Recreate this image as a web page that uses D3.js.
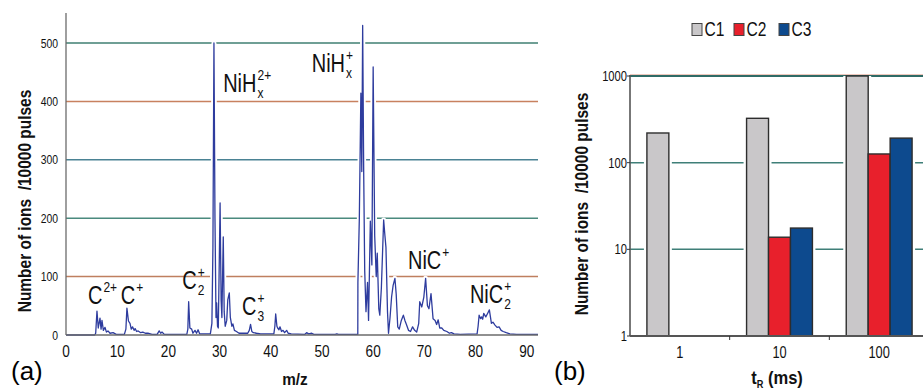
<!DOCTYPE html>
<html>
<head>
<meta charset="utf-8">
<script src="https://cdn.jsdelivr.net/npm/d3@7/dist/d3.min.js"></script>
<style>
  html, body { margin: 0; padding: 0; background: #fff; }
  svg { display: block; }
</style>
</head>
<body>
<svg id="chart" width="923" height="389"></svg>
<script>
// (a) mass spectrum
const spectrumMz = [0, 5.6, 5.8, 6.05, 6.3, 6.64, 6.85, 7.03, 7.3, 7.62, 7.9, 8.2, 8.6, 9.2, 9.8, 11.4, 11.7, 11.9, 12.2, 12.5, 12.75, 13.0, 13.3, 13.5, 13.8, 14.1, 14.6, 15.0, 15.5, 16.0, 16.8, 17.8, 18.2, 18.5, 18.75, 19.2, 22.0, 23.6, 23.8, 23.96, 24.2, 24.55, 24.8, 25.2, 25.5, 25.8, 26.1, 28.2, 28.5, 28.7, 28.9, 29.1, 29.3, 29.43, 29.6, 29.75, 29.9, 30.1, 30.3, 30.45, 30.72, 30.9, 31.1, 31.4, 31.6, 31.9, 32.1, 32.4, 32.6, 32.9, 33.3, 33.8, 35.5, 35.8, 36.05, 36.3, 36.6, 37.2, 38, 40.6, 40.8, 40.96, 41.2, 41.35, 41.6, 41.8, 42.1, 42.4, 42.7, 43.1, 43.4, 44, 46.6, 47.0, 47.4, 48.0, 48.4, 52.6, 52.9, 53.2, 57.0, 57.02, 57.3, 57.6, 57.78, 57.95, 58.15, 58.35, 58.6, 58.9, 59.1, 59.45, 59.75, 60.0, 60.3, 60.6, 60.8, 61.1, 61.3, 61.6, 62.05, 62.3, 62.5, 62.8, 63.0, 63.3, 63.6, 63.9, 64.25, 64.5, 64.8, 65.1, 65.5, 65.9, 66.2, 66.5, 66.9, 67.3, 67.7, 68.1, 68.5, 68.9, 69.1, 69.5, 69.9, 70.25, 70.6, 70.9, 71.3, 71.7, 72.1, 72.4, 72.7, 73.0, 73.4, 73.8, 74.4, 74.9, 75.3, 75.8, 77, 80.3, 80.5, 80.7, 81.0, 81.2, 81.4, 81.6, 82.0, 82.3, 82.7, 83.1, 83.4, 83.8, 84.2, 84.6, 85.0, 85.4, 86.0, 86.7, 88, 92.2]
const spectrumCounts = [0, 0, 3, 41, 12, 29, 10, 25, 8, 13, 5, 7, 3, 4, 1, 1, 10, 46, 24, 20, 10, 14, 8, 11, 6, 7, 4, 5, 3, 3, 1, 1, 7, 3, 5, 1, 1, 1, 10, 57, 12, 10, 3, 8, 3, 9, 2, 2, 20, 150, 500, 200, 30, 55, 15, 12, 100, 226, 60, 30, 168, 40, 15, 25, 60, 72, 30, 15, 19, 8, 6, 3, 3, 8, 18, 6, 4, 3, 2, 2, 15, 36, 15, 12, 9, 14, 6, 8, 4, 8, 3, 2, 1, 4, 2, 3, 1, 1, 2, 1, 1, 90, 200, 414, 280, 530, 280, 110, 40, 90, 25, 195, 120, 459, 170, 100, 140, 45, 34, 80, 197, 170, 150, 40, 3, 30, 65, 85, 97, 70, 14, 10, 25, 34, 25, 18, 8, 6, 14, 8, 5, 20, 57, 48, 65, 97, 50, 45, 71, 28, 25, 18, 26, 12, 12, 8, 6, 3, 4, 2, 1, 2, 15, 34, 28, 31, 27, 37, 31, 36, 43, 20, 22, 17, 13, 14, 8, 6, 4, 2, 1, 1]
const countTicks = [0, 100, 200, 300, 400, 500]
const mzTicks = [0, 10, 20, 30, 40, 50, 60, 70, 80, 90]
const peakLabels = ['NiH', 'NiH', 'C', 'C', 'C', 'C', 'NiC', 'NiC']
const peakSubs = ['x', 'x', '', '', '2', '3', '', '2']
const peakSups = ['2+', '+', '2+', '+', '+', '+', '+', '+']
const peakLabelMz = [30.7, 48.0, 4.3, 10.7, 22.7, 34.4, 66.8, 78.9]
const peakLabelCount = [416, 450, 53, 53, 79, 34, 113, 55]

// (b) ion counts vs retention time
const retentionTimes = ['1', '10', '100']
const seriesNames = ['C1', 'C2', 'C3']
const c1Counts = [220, 325, 1000]
const c2Counts = [null, 13.8, 126]
const c3Counts = [null, 17.6, 192]
const logTicks = [1, 10, 100, 1000]

const font = '"Liberation Sans", Arial, sans-serif'
const squeeze = 0.8
const svg = d3.select('#chart').attr('font-family', font)

// condensed text: the figure uses a narrow face, so scale a regular one
function narrowText(parent, x, y, size, str, opts = {}) {
  const g = parent.append('g').attr('transform', `translate(${x},${y}) ${opts.rotate ? 'rotate(-90) ' : ''}scale(${opts.squeeze || squeeze},1)`)
  const t = g.append('text').attr('font-size', size).attr('fill', '#111')
    .attr('text-anchor', opts.anchor || 'start').attr('font-weight', opts.bold ? 700 : 400)
    .attr('xml:space', 'preserve').text(str)
  return t
}

// ---------- panel (a) ----------
const xa = d3.scaleLinear().domain([0, 92.2]).range([66, 538])
const ya = d3.scaleLinear().domain([0, 550]).range([335, 13.8])

const grid = svg.append('g')
const gridColors = { 100: '#bf7f5f', 200: '#4a8a7e', 300: '#4a8294', 400: '#c8815f', 500: '#3f7f72' }
countTicks.filter((t) => t > 0).forEach((t) => {
  grid.append('line').attr('x1', xa(0)).attr('x2', xa(92.2)).attr('y1', ya(t)).attr('y2', ya(t))
    .attr('stroke', gridColors[t]).attr('stroke-width', 1.5)
})

const points = spectrumMz.map((m, i) => [m, spectrumCounts[i]])
const line = d3.line().x((d) => xa(d[0])).y((d) => ya(d[1]))
svg.append('path').datum(points).attr('d', line).attr('fill', 'none')
  .attr('stroke', '#fff').attr('stroke-width', 5).attr('stroke-linejoin', 'round')
svg.append('path').datum(points).attr('d', line).attr('fill', 'none')
  .attr('stroke', '#2e3c9e').attr('stroke-width', 1.3).attr('stroke-linejoin', 'round')

const axA = svg.append('g')
axA.append('line').attr('x1', xa(0)).attr('x2', xa(0)).attr('y1', 13).attr('y2', ya(0)).attr('stroke', '#6b6b6b').attr('stroke-width', 1.3)
axA.append('line').attr('x1', xa(0)).attr('x2', xa(92.2)).attr('y1', ya(0)).attr('y2', ya(0)).attr('stroke', '#6b6b6b').attr('stroke-width', 1.5)
countTicks.forEach((d) => narrowText(axA, 58, ya(d) + 4.5, 13, d, { anchor: 'end' }))
mzTicks.forEach((d) => narrowText(axA, xa(d), 357, 17, d, { anchor: 'middle' }))
narrowText(axA, 295, 385, 17, 'm/z', { anchor: 'middle', bold: true, squeeze: 0.9 })
narrowText(axA, 31, 201, 18, 'Number of ions  /10000 pulses', { anchor: 'middle', bold: true, rotate: true, squeeze: 0.86 })
axA.append('text').attr('x', 11).attr('y', 380).attr('font-size', 26).text('(a)')

const ann = svg.append('g')
peakLabels.forEach((label, i) => {
  const x = xa(peakLabelMz[i])
  const y = ya(peakLabelCount[i])
  const base = narrowText(ann, x, y, 25, label)
  const w = base.node().getComputedTextLength() * squeeze
  if (peakSubs[i]) narrowText(ann, x + w + 1, y + 6, 15, peakSubs[i])
  narrowText(ann, x + w + 1, y - 12, 15, peakSups[i])
})

// ---------- panel (b) ----------
const xb = d3.scaleBand().domain(retentionTimes).range([630, 929])
const xs = d3.scaleBand().domain(seriesNames).range([0, xb.bandwidth()]).paddingOuter(0.77)
const yb = d3.scaleLog().domain([1, 1000]).range([336, 76])
const seriesColors = { C1: '#c9c7c9', C2: '#e8202c', C3: '#0d4a8e' }
const seriesValues = { C1: c1Counts, C2: c2Counts, C3: c3Counts }

const gb = svg.append('g')
logTicks.filter((t) => t > 1).forEach((t) => {
  if (t === 1000) {
    gb.append('line').attr('x1', 630).attr('x2', 923).attr('y1', yb(t) - 1.2).attr('y2', yb(t) - 1.2).attr('stroke', '#e6b0a0').attr('stroke-width', 1)
  }
  gb.append('line').attr('x1', 630).attr('x2', 923).attr('y1', yb(t)).attr('y2', yb(t))
    .attr('stroke', t === 1000 ? '#2f6b66' : '#3f7f78').attr('stroke-width', t === 1000 ? 2 : 1.5)
})

const bars = []
retentionTimes.forEach((rt, i) => {
  seriesNames.forEach((s) => {
    const v = seriesValues[s][i]
    if (v != null) bars.push({ rt, s, v })
  })
})
const barX = (d) => xb(d.rt) + xs(d.s)
gb.selectAll('.halo').data(bars).join('rect').attr('class', 'halo')
  .attr('x', (d) => barX(d) - 3).attr('width', xs.bandwidth() + 6)
  .attr('y', (d) => yb(d.v)).attr('height', (d) => yb(1) - yb(d.v)).attr('fill', '#fff')
gb.selectAll('.bar').data(bars).join('rect').attr('class', 'bar')
  .attr('x', barX).attr('width', xs.bandwidth())
  .attr('y', (d) => yb(d.v)).attr('height', (d) => yb(1) - yb(d.v))
  .attr('fill', (d) => seriesColors[d.s]).attr('stroke', '#2d2d2d').attr('stroke-width', 1.4)

const axB = svg.append('g')
axB.append('line').attr('x1', 630).attr('x2', 630).attr('y1', yb(1000) - 1).attr('y2', yb(1)).attr('stroke', '#555').attr('stroke-width', 1.6)
axB.append('line').attr('x1', 630).attr('x2', 923).attr('y1', yb(1)).attr('y2', yb(1)).attr('stroke', '#555').attr('stroke-width', 2)
logTicks.forEach((t) => {
  axB.append('line').attr('x1', 627).attr('x2', 630).attr('y1', yb(t)).attr('y2', yb(t)).attr('stroke', '#333')
  narrowText(axB, 627, yb(t) + 5, 14, t, { anchor: 'end' })
})
retentionTimes.forEach((rt, i) => {
  if (i > 0) axB.append('line').attr('x1', xb(rt)).attr('x2', xb(rt)).attr('y1', yb(1)).attr('y2', yb(1) + 4).attr('stroke', '#333')
  narrowText(axB, xb(rt) + xb.bandwidth() / 2, 358, 16, rt, { anchor: 'middle' })
})
const tr = narrowText(axB, 777, 384, 18, '', { anchor: 'middle', bold: true, squeeze: 0.92 })
tr.append('tspan').text('t')
tr.append('tspan').attr('font-size', 10).attr('dy', 4).text('R')
tr.append('tspan').attr('dy', -4).text(' (ms)')
narrowText(axB, 588, 204, 18, 'Number of ions  /10000 pulses', { anchor: 'middle', bold: true, rotate: true, squeeze: 0.86 })
axB.append('text').attr('x', 554).attr('y', 380).attr('font-size', 26).text('(b)')

// legend
const legendX = [692, 734, 779]
seriesNames.forEach((s, i) => {
  axB.append('rect').attr('x', legendX[i]).attr('y', 23.5).attr('width', 10).attr('height', 12)
    .attr('fill', seriesColors[s]).attr('stroke', '#444').attr('stroke-width', 1)
  narrowText(axB, legendX[i] + 12.5, 36, 20, s, { squeeze: 0.78 })
})
</script>
</body>
</html>
